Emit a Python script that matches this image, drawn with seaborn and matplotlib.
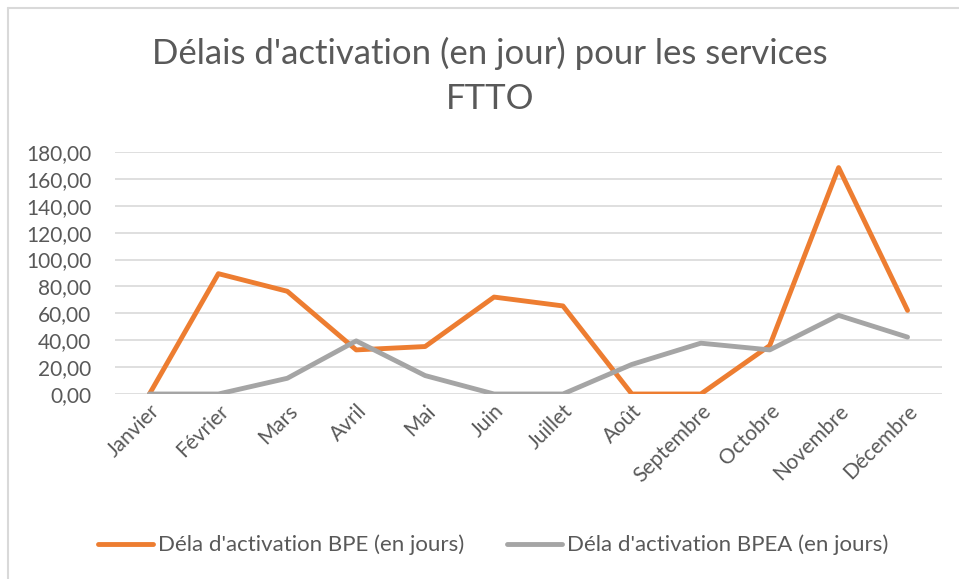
import numpy as np
import pandas as pd
import matplotlib
matplotlib.use("Agg")
import matplotlib.pyplot as plt
from matplotlib.ticker import FuncFormatter
from matplotlib.lines import Line2D
import seaborn as sns

mois = ['Janvier', 'Février', 'Mars', 'Avril', 'Mai', 'Juin', 'Juillet',
        'Août', 'Septembre', 'Octobre', 'Novembre', 'Décembre']
delai_bpe = [0, 89.5, 76.4, 32.8, 35.3, 72.1, 65.5, 0, 0, 36, 168.4, 62.2]
delai_bpea = [0, 0, 11.7, 39.5, 13.7, 0, 0, 22, 37.8, 32.8, 58.5, 42.3]
serie_bpe = "Déla d'activation BPE (en jours)"
serie_bpea = "Déla d'activation BPEA (en jours)"
titre = "Délais d'activation (en jour) pour les services\nFTTO"

df = pd.DataFrame({'mois': mois, serie_bpe: delai_bpe, serie_bpea: delai_bpea})
long_df = df.melt(id_vars='mois', var_name='serie', value_name='jours')

sns.set_theme(style="white")
plt.rcParams['font.family'] = ['Lato', 'DejaVu Sans']
txt_col = '#595959'
couleurs = {serie_bpe: '#ED7D31', serie_bpea: '#A5A5A5'}

fig = plt.figure(figsize=(9.59, 5.79), dpi=100)
ax = fig.add_axes([115 / 959, 1 - 394 / 579, (942 - 115) / 959, (394 - 152) / 579])

sns.lineplot(data=long_df, x='mois', y='jours', hue='serie', sort=False,
             palette=couleurs, linewidth=3.5, ax=ax, legend=False)
for ln in ax.lines:
    ln.set_solid_capstyle('round')
    ln.set_solid_joinstyle('round')

ax.set_xlim(-0.5, len(mois) - 0.5)
ax.set_ylim(0, 180)
ax.set_yticks(np.arange(0, 181, 20))
ax.yaxis.set_major_formatter(FuncFormatter(lambda v, p: f"{v:.2f}".replace('.', ',')))
ax.grid(axis='y', color='#D9D9D9', linewidth=1.2)
ax.set_axisbelow(True)
for s in ax.spines.values():
    s.set_visible(False)
ax.set_xlabel('')
ax.set_ylabel('')
ax.tick_params(axis='y', length=0, pad=17, labelsize=15, labelcolor=txt_col)
ax.tick_params(axis='x', length=0, pad=5, labelsize=15, labelcolor=txt_col)
ax.set_xticks(range(len(mois)))
ax.set_xticklabels(mois, rotation=45, ha='right', rotation_mode='anchor')

fig.text(490 / 959, 1 - 76 / 579, titre, ha='center', va='center',
         fontsize=25, color=txt_col, linespacing=1.53)

handles = [Line2D([], [], color=couleurs[serie_bpe], lw=3.5, solid_capstyle='round'),
           Line2D([], [], color=couleurs[serie_bpea], lw=3.5, solid_capstyle='round')]
fig.legend(handles, [serie_bpe, serie_bpea], loc='center', ncol=2,
           bbox_to_anchor=(493 / 959, 1 - 545 / 579), frameon=False,
           fontsize=16, labelcolor=txt_col, handlelength=2.5, handletextpad=0.22,
           columnspacing=1.9)

# cadre du graphique
fig.add_artist(Line2D([8 / 959, 8 / 959], [0, 1 - 8 / 579], color='#D9D9D9', lw=1.5))
fig.add_artist(Line2D([8 / 959, 1], [1 - 8 / 579, 1 - 8 / 579], color='#D9D9D9', lw=1.5))

fig.savefig('out.png', dpi=100)
